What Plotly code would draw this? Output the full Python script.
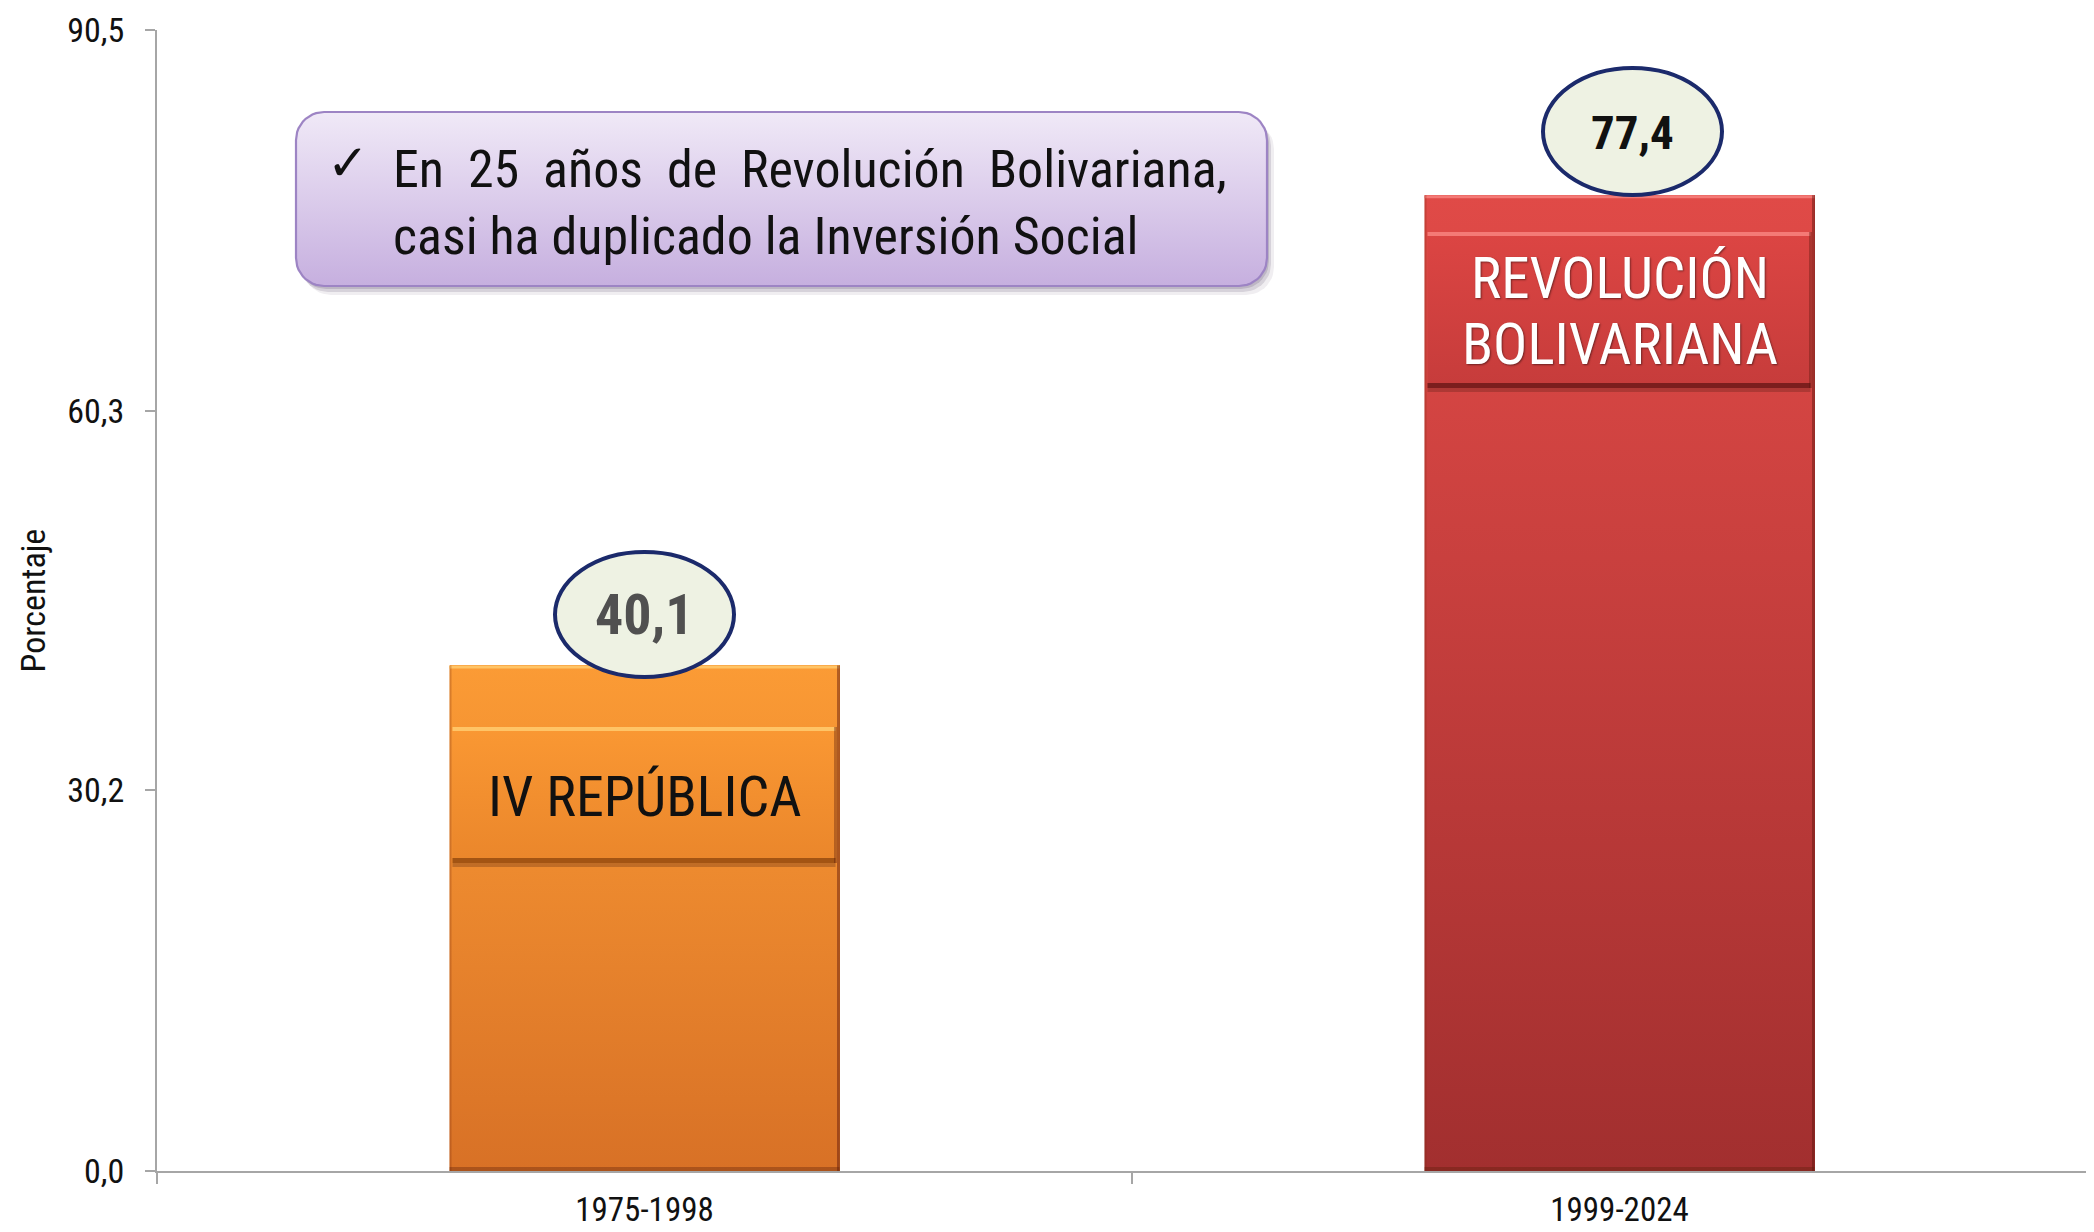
import numpy as np
import plotly.graph_objects as go

# ---------------- data ----------------
categories = ["1975-1998", "1999-2024"]
values = [40.1, 77.4]
value_labels = ["40,1", "77,4"]
bar_labels = [["IV REPÚBLICA"], ["REVOLUCIÓN", "BOLIVARIANA"]]
y_tickvals = [0.0, 30.2, 60.3, 90.5]
y_ticktext = ["0,0", "30,2", "60,3", "90,5"]
y_title = "Porcentaje"
note_check = "✓"
note_lines = ["En 25 años de Revolución Bolivariana,",
              "casi ha duplicado la Inversión Social"]

# ---------------- geometry / style ----------------
OFF = 8  # default body margin of the html page
PW, PH = 2094, 1232                    # page size
PL, PR, PT, PB = 157, 2094, 30, 1171   # plot area in page pixels
W, H = PW - OFF, PH - OFF
X_PPU = 975.0
XMIN = -0.5
XMAX = XMIN + (PR - PL) / X_PPU
YMAX = 90.5
Y_PPU = (PB - PT) / YMAX
BW = 0.4

FONT = "Roboto Condensed, Arial Narrow, Liberation Sans, Arial, sans-serif"


def xd(px):
    return XMIN + (px - PL) / X_PPU


def yd(py):
    return (PB - py) / Y_PPU


def dx(p):
    return p / X_PPU


def dy(p):
    return p / Y_PPU


bar_top_col = ["#fb9b35", "#e04a47"]
bar_bot_col = ["#d87126", "#a22f2f"]
bar_mid_col = ["#ee8a2e", "#c23c3b"]
box_top_col = ["#fa9833", "#dc4543"]
box_bot_col = ["#ea862b", "#c63c3b"]
hi_col = ["#ffc466", "#f47a76"]
shadow_col = ["rgba(150,75,15,0.85)", "rgba(110,25,25,0.85)"]
box_top_px = [727, 232]
box_bot_px = [863, 388]
label_color = ["#111111", "#ffffff"]
label_size = [56, 57]
label_center_px = [[797], [278, 344]]

ell_px = [(555, 734, 552, 677), (1543, 1722, 68, 195)]  # x0, x1, ytop, ybottom
ell_text_px = [(644.5, 615), (1632, 132)]
ell_text_col = ["#505050", "#111111"]
ell_text_size = [56, 47]

fig = go.Figure()

# bars (library scale)
fig.add_trace(go.Bar(
    x=[0, 1], y=values, width=BW,
    marker=dict(color=bar_mid_col, line=dict(width=0)),
    hoverinfo="skip", showlegend=False,
))

# gradient overlays of the bars
for i, v in enumerate(values):
    x0, x1 = i - BW / 2, i + BW / 2
    fig.add_trace(go.Scatter(
        x=[x0, x1, x1, x0, x0], y=[0, 0, v, v, 0],
        mode="lines", fill="toself", line=dict(width=0),
        fillgradient=dict(type="vertical",
                          colorscale=[[0, bar_bot_col[i]], [1, bar_top_col[i]]]),
        hoverinfo="skip", showlegend=False,
    ))
    bx0, bx1 = x0 + dx(3), x1 - dx(4)
    by0, by1 = yd(box_bot_px[i]), yd(box_top_px[i])
    fig.add_trace(go.Scatter(
        x=[bx0, bx1, bx1, bx0, bx0], y=[by0, by0, by1, by1, by0],
        mode="lines", fill="toself", line=dict(width=0),
        fillgradient=dict(type="vertical",
                          colorscale=[[0, box_bot_col[i]], [1, box_top_col[i]]]),
        hoverinfo="skip", showlegend=False,
    ))


def rounded_rect(px0, px1, py0, py1, r, n=12):
    xs, ys = [], []
    corners = [
        (px1 - r, py0 + r, -90, 0),
        (px1 - r, py1 - r, 0, 90),
        (px0 + r, py1 - r, 90, 180),
        (px0 + r, py0 + r, 180, 270),
    ]
    for cx, cy, a0, a1 in corners:
        for a in np.linspace(np.radians(a0), np.radians(a1), n):
            xs.append(xd(cx + r * np.cos(a)))
            ys.append(yd(cy + r * np.sin(a)))
    xs.append(xs[0])
    ys.append(ys[0])
    return xs, ys


NB = (296, 1267, 112, 286)
for off, alpha in [((7, 9), 0.08), ((4, 6), 0.14), ((2, 3), 0.16)]:
    sx, sy = rounded_rect(NB[0] + off[0], NB[1] + off[0], NB[2] + off[1], NB[3] + off[1], 28)
    fig.add_trace(go.Scatter(x=sx, y=sy, mode="lines", fill="toself",
                             line=dict(width=0), fillcolor=f"rgba(60,40,80,{alpha})",
                             hoverinfo="skip", showlegend=False))
nx, ny = rounded_rect(*NB, 28)
fig.add_trace(go.Scatter(
    x=nx, y=ny, mode="lines", fill="toself",
    line=dict(width=2.2, color="#9d84c4"),
    fillgradient=dict(type="vertical", colorscale=[[0, "#c6afdf"], [1, "#f0e9f7"]]),
    hoverinfo="skip", showlegend=False,
))

shapes = []
for i, v in enumerate(values):
    x0, x1 = i - BW / 2, i + BW / 2
    shapes.append(dict(type="line", x0=x0, x1=x1, y0=v - dy(1.5), y1=v - dy(1.5),
                       line=dict(color=hi_col[i], width=3)))
    shapes.append(dict(type="line", x0=x0 + dx(1), x1=x0 + dx(1), y0=0, y1=v,
                       line=dict(color="rgba(120,40,10,0.25)", width=2)))
    shapes.append(dict(type="line", x0=x1 - dx(1), x1=x1 - dx(1), y0=0, y1=v,
                       line=dict(color="rgba(90,20,10,0.45)", width=3)))
    shapes.append(dict(type="rect", x0=x0, x1=x1, y0=0, y1=dy(4),
                       fillcolor="rgba(90,30,10,0.35)", line=dict(width=0)))
    bx0, bx1 = x0 + dx(3), x1 - dx(4)
    by0, by1 = yd(box_bot_px[i]), yd(box_top_px[i])
    shapes.append(dict(type="line", x0=bx0, x1=bx1, y0=by1 - dy(2), y1=by1 - dy(2),
                       line=dict(color=hi_col[i], width=4)))
    shapes.append(dict(type="rect", x0=bx0, x1=bx1, y0=by0, y1=by0 + dy(5),
                       fillcolor=shadow_col[i], line=dict(width=0)))
    shapes.append(dict(type="rect", x0=bx0, x1=bx1, y0=by0 - dy(4), y1=by0,
                       fillcolor="rgba(60,20,10,0.25)", line=dict(width=0)))
    shapes.append(dict(type="line", x0=bx1, x1=bx1, y0=by0, y1=by1,
                       line=dict(color="rgba(80,20,10,0.35)", width=3)))
    ex0, ex1, et, eb = ell_px[i]
    shapes.append(dict(type="circle", x0=xd(ex0), x1=xd(ex1), y0=yd(eb), y1=yd(et),
                       fillcolor="#eef2e3", line=dict(color="#1b2a6b", width=4)))

annotations = []
for i, v in enumerate(values):
    tx, ty = ell_text_px[i]
    annotations.append(dict(
        x=xd(tx), y=yd(ty), xref="x", yref="y", text=f"<b>{value_labels[i]}</b>",
        showarrow=False, xanchor="center", yanchor="middle",
        font=dict(family=FONT, size=ell_text_size[i], color=ell_text_col[i]),
    ))
    for line, cy in zip(bar_labels[i], label_center_px[i]):
        annotations.append(dict(
            x=i, y=yd(cy), xref="x", yref="y", text=line, showarrow=False,
            xanchor="center", yanchor="middle",
            font=dict(family=FONT, size=label_size[i], color=label_color[i],
                      shadow="1px 1px 2px rgba(0,0,0,0.45)" if i == 1 else "none"),
        ))

NBSP = "\u00a0"
line1 = note_lines[0].replace(" ", " " + NBSP)
annotations.append(dict(x=xd(348), y=yd(163), xref="x", yref="y", text=note_check,
                        showarrow=False, xanchor="center", yanchor="middle",
                        font=dict(family="DejaVu Sans", size=50, color="#111111")))
annotations.append(dict(x=xd(391), y=yd(169), xref="x", yref="y", text=line1,
                        showarrow=False, xanchor="left", yanchor="middle",
                        font=dict(family=FONT, size=52, color="#111111")))
annotations.append(dict(x=xd(391), y=yd(236), xref="x", yref="y", text=note_lines[1],
                        showarrow=False, xanchor="left", yanchor="middle",
                        font=dict(family=FONT, size=52, color="#111111")))
annotations.append(dict(x=(32 - PL) / (PR - PL), y=0.5, xref="paper", yref="paper",
                        text=y_title, textangle=-90, showarrow=False,
                        xanchor="center", yanchor="middle",
                        font=dict(family=FONT, size=34, color="#111111")))

fig.update_layout(
    width=W, height=H,
    margin=dict(l=PL - OFF, r=PW - PR, t=PT - OFF, b=PH - PB, pad=0, autoexpand=False),
    paper_bgcolor="white", plot_bgcolor="white",
    shapes=shapes, annotations=annotations,
    showlegend=False, bargap=0,
    font=dict(family=FONT, color="#111111"),
)
fig.update_xaxes(
    range=[XMIN, XMAX], tickvals=[0, 1], ticktext=categories,
    ticks="outside", ticklen=8, tickcolor="rgba(0,0,0,0)",
    tickfont=dict(family=FONT, size=33, color="#111111"),
    ticklabelstandoff=0, automargin=False,
    showline=True, linecolor="#a6a6a6", linewidth=2,
    showgrid=False, zeroline=False,
    minor=dict(tickvals=[-0.5, 0.5, 1.5], ticks="outside", ticklen=11,
               tickcolor="#a6a6a6", tickwidth=2, showgrid=False),
)
fig.update_yaxes(
    range=[0, YMAX], tickvals=y_tickvals, ticktext=y_ticktext,
    ticks="outside", ticklen=10, tickcolor="#a6a6a6", tickwidth=2,
    tickfont=dict(family=FONT, size=34, color="#111111"),
    ticklabelstandoff=14, automargin=False,
    showline=True, linecolor="#a6a6a6", linewidth=2,
    showgrid=False, zeroline=False,
)

fig.write_html("out.html")
